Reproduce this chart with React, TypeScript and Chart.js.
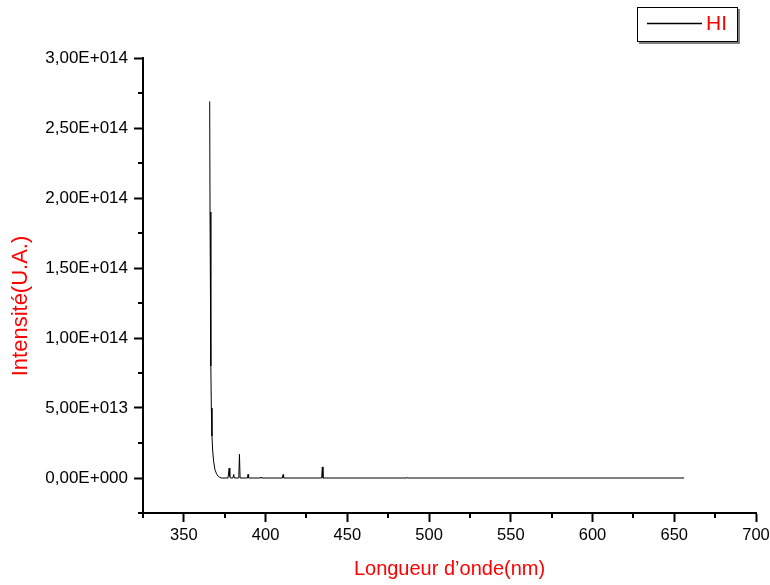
import React, { useEffect, useRef } from 'react';
import { Chart, registerables } from 'chart.js';

Chart.register(...registerables);

// ---- Data ----
const seriesLabel = 'HI';

const wavelengths = [
  365.8, 366.0, 366.5, 366.8, 367.2, 367.6, 368.2, 369.0, 370.0, 371.0, 372.0, 373.0,
  377.0, 377.7, 378.1, 378.5,
  380.0, 380.5, 380.9,
  383.6, 384.0, 384.4,
  388.9, 389.25, 389.6,
  396.9, 397.2, 397.5,
  410.3, 410.65, 411.0,
  434.3, 434.7, 435.1,
  486.2, 486.5, 486.8,
  656.0,
];

const intensities = [
  2.69e14, 1.9e14, 8.0e13, 5.0e13, 3.0e13, 2.0e13, 1.2e13, 6.0e12, 3.0e12, 1.2e12, 4e11, 0,
  0, 7.0e12, 1.0e12, 0,
  0, 2.5e12, 0,
  0, 1.69e13, 0,
  0, 2.6e12, 0,
  0, 7e11, 0,
  0, 2.4e12, 0,
  0, 7.9e12, 0,
  0, 4e11, 0,
  0,
];

const xMin = 325;
const xMax = 700;
const xTickValues = [350, 400, 450, 500, 550, 600, 650, 700];
const xTickLabels = ['350', '400', '450', '500', '550', '600', '650', '700'];
const xMinorTicks = [325, 375, 425, 475, 525, 575, 625, 675];

const yMin = -2.5e13;
const yMax = 3.0e14;
const yTickValues = [0, 5e13, 1e14, 1.5e14, 2e14, 2.5e14, 3e14];
const yTickLabels = [
  '0,00E+000', '5,00E+013', '1,00E+014', '1,50E+014', '2,00E+014', '2,50E+014', '3,00E+014',
];
const yMinorTicks = [-2.5e13, 2.5e13, 7.5e13, 1.25e14, 1.75e14, 2.25e14, 2.75e14];

const xTitle = 'Longueur d\u2019onde(nm)';
const yTitle = 'Intensit\u00e9(U.A.)';

const FONT = '"Liberation Sans", Arial, Helvetica, sans-serif';

const decorPlugin = {
  id: 'decor',
  afterDraw(chart: any) {
    const ctx: CanvasRenderingContext2D = chart.ctx;
    const xs = chart.scales.x;
    const ys = chart.scales.y;
    ctx.save();
    // minor ticks
    ctx.strokeStyle = '#000';
    ctx.lineWidth = 2;
    ctx.beginPath();
    xMinorTicks.forEach((v) => {
      const px = Math.round(xs.getPixelForValue(v));
      ctx.moveTo(px, xs.top);
      ctx.lineTo(px, xs.top + 5);
    });
    yMinorTicks.forEach((v) => {
      const py = Math.round(ys.getPixelForValue(v));
      ctx.moveTo(ys.right, py);
      ctx.lineTo(ys.right - 5, py);
    });
    ctx.stroke();

    // y title
    ctx.save();
    ctx.translate(21, 306);
    ctx.rotate(-Math.PI / 2);
    ctx.fillStyle = '#ff0000';
    ctx.font = `22px ${FONT}`;
    ctx.textAlign = 'center';
    ctx.textBaseline = 'middle';
    ctx.fillText(yTitle, 0, 0);
    ctx.restore();

    // legend box
    const bx = 637, by = 7, bw = 101, bh = 35;
    ctx.fillStyle = '#808080';
    ctx.fillRect(bx + 2, by + 2, bw, bh);
    ctx.fillStyle = '#ffffff';
    ctx.fillRect(bx, by, bw, bh);
    ctx.strokeStyle = '#000';
    ctx.lineWidth = 1;
    ctx.strokeRect(bx + 0.5, by + 0.5, bw - 1, bh - 1);
    const ds = chart.data.datasets[0];
    ctx.strokeStyle = ds.borderColor;
    ctx.lineWidth = 1.5;
    ctx.beginPath();
    ctx.moveTo(647, 23.5);
    ctx.lineTo(702, 23.5);
    ctx.stroke();
    ctx.fillStyle = '#ff0000';
    ctx.font = `21px ${FONT}`;
    ctx.textAlign = 'left';
    ctx.textBaseline = 'middle';
    ctx.fillText(ds.label, 706, 24.5);
    ctx.restore();
  },
};

export default function App() {
  const canvasRef = useRef<HTMLCanvasElement | null>(null);

  useEffect(() => {
    const canvas = canvasRef.current;
    if (!canvas) return;
    const points = wavelengths.map((x, i) => ({ x, y: intensities[i] }));
    const chart = new Chart(canvas, {
      type: 'line',
      data: {
        datasets: [
          {
            label: seriesLabel,
            data: points,
            borderColor: '#000000',
            borderWidth: 1,
            borderJoinStyle: 'round',
            pointRadius: 0,
            fill: false,
            tension: 0,
          },
        ],
      },
      options: {
        animation: false,
        responsive: false,
        maintainAspectRatio: false,
        layout: { padding: { left: 0, right: 14, top: 58, bottom: 0 } },
        font: { family: FONT },
        plugins: {
          legend: { display: false },
          tooltip: { enabled: false },
        },
        scales: {
          x: {
            type: 'linear',
            position: 'bottom',
            min: xMin,
            max: xMax,
            afterBuildTicks: (scale: any) => {
              scale.ticks = xTickValues.map((v) => ({ value: v }));
            },
            afterFit: (scale: any) => {
              scale.height = 72;
              scale.paddingLeft = 0;
              scale.paddingRight = 0;
            },
            grid: {
              drawOnChartArea: false,
              drawTicks: true,
              tickLength: 9,
              tickColor: '#000',
              tickWidth: 2,
            },
            border: { display: true, color: '#000', width: 2 },
            ticks: {
              autoSkip: false,
              maxRotation: 0,
              padding: 4,
              color: '#000',
              font: { family: FONT, size: 16.5 },
              callback: (_v: any, i: number) => xTickLabels[i],
            },
            title: {
              display: true,
              text: xTitle,
              color: '#ff0000',
              font: { family: FONT, size: 20 },
              padding: { top: 0, bottom: 3.5 },
            },
          },
          y: {
            type: 'linear',
            position: 'left',
            min: yMin,
            max: yMax,
            afterBuildTicks: (scale: any) => {
              scale.ticks = yTickValues.map((v) => ({ value: v }));
            },
            afterFit: (scale: any) => {
              scale.width = 143;
              scale.paddingTop = 0;
              scale.paddingBottom = 0;
            },
            grid: {
              drawOnChartArea: false,
              drawTicks: true,
              tickLength: 9,
              tickColor: '#000',
              tickWidth: 2,
            },
            border: { display: true, color: '#000', width: 2 },
            ticks: {
              autoSkip: false,
              padding: 6,
              color: '#000',
              font: { family: FONT, size: 17 },
              callback: (_v: any, i: number) => yTickLabels[i],
            },
          },
        },
      },
      plugins: [decorPlugin],
    } as any);
    return () => chart.destroy();
  }, []);

  return (
    <div style={{ position: 'absolute', left: 0, top: 0, width: 770, height: 585, background: '#fff' }}>
      <canvas ref={canvasRef} width={770} height={585} style={{ display: 'block', width: 770, height: 585 }} />
    </div>
  );
}
